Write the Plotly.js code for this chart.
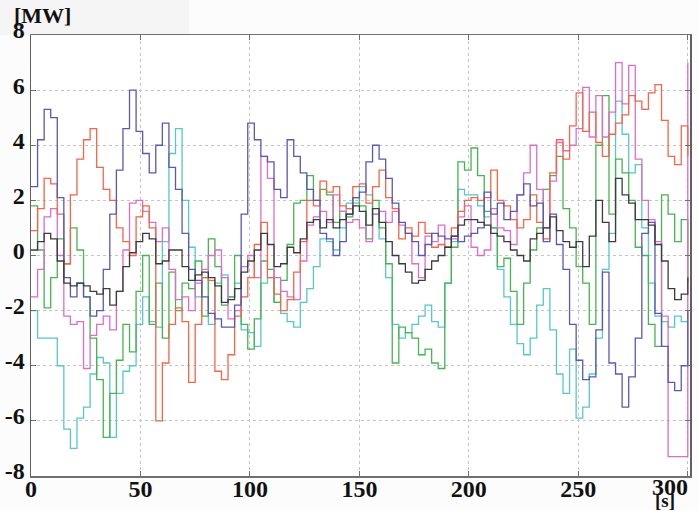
<!DOCTYPE html>
<html>
<head>
<meta charset="utf-8">
<script src="https://cdn.plot.ly/plotly-3.0.1.min.js"></script>
<style>html,body{margin:0;padding:0;background:#fcfcfc;}#chart{width:699px;height:511px;}</style>
</head>
<body>
<div id="chart"></div>
<script>
const timeS = [0,3,6,9,12,15,18,21,24,27,30,33,36,39,42,45,48,51,54,57,60,63,66,69,72,75,78,81,84,87,90,93,96,99,
102,105,108,111,114,117,120,123,126,129,132,135,138,141,144,147,150,153,156,159,162,165,168,171,174,177,180,183,186,189,192,195,198,201,
204,207,210,213,216,219,222,225,228,231,234,237,240,243,246,249,252,255,258,261,264,267,270,273,276,279,282,285,288,291,294,297,300];

const blueMW = [2.5,4.2,5.3,5.0,2.1,-0.8,-1.5,-1.0,-1.5,-2.2,-2.0,-0.5,1.5,3.1,4.6,6.0,4.5,3.7,
3.0,4.0,4.8,3.2,2.4,0.8,-0.5,-0.9,-1.5,-2.1,-2.3,-2.6,-2.6,-1.8,1.5,4.8,
4.2,3.6,3.4,2.4,2.1,4.2,3.6,3.0,2.4,2.0,0.8,0.6,0.0,0.5,1.5,2.1,2.3,
3.4,4.0,3.5,2.8,1.9,1.2,0.8,0.5,0.0,0.4,0.8,0.7,0.6,0.7,0.5,0.7,0.8,
1.0,2.3,1.5,1.9,1.3,1.6,2.2,2.6,1.8,1.9,0.5,1.5,0.4,-0.5,-2.5,-3.8,-4.5,
-4.4,-2.7,-0.6,-3.9,-4.3,-5.5,-4.4,-3.0,0.8,1.2,-2.1,-3.3,-4.6,-4.9,-4.0,-2.0];

const redMW = [0.9,1.7,2.8,2.6,1.5,-0.3,2.2,3.5,4.2,4.6,3.2,2.4,2.0,1.0,0.5,0.0,1.4,1.8,
1.0,-6.0,-3.9,-2.5,-1.9,-2.4,-4.6,-2.5,-0.8,-0.9,-4.2,-4.5,-3.6,-2.2,-1.5,-0.8,
0.4,1.2,-0.8,-1.4,-2.0,-1.6,-0.6,0.5,2.0,1.8,2.7,2.3,2.5,1.8,1.7,2.5,2.6,
1.9,2.5,3.1,2.1,1.7,0.6,1.0,0.7,1.2,0.8,0.3,0.4,0.3,1.0,1.6,2.0,2.1,
2.0,2.1,3.1,2.0,1.8,1.3,1.0,1.3,2.2,1.2,0.6,3.0,4.2,3.5,4.7,5.9,4.5,
5.2,4.1,3.6,4.4,4.8,5.1,5.8,5.6,5.3,5.9,6.2,4.9,3.6,3.3,4.7,3.6];

const greenMW = [1.8,0.2,-1.9,-0.8,0.6,-0.3,1.0,0.2,-1.5,-3.0,-4.5,-6.6,-5.0,-3.8,-2.5,-3.5,-1.3,0.0,
-2.5,-1.0,-3.0,-0.6,-2.0,-1.0,-1.2,-0.2,-2.2,0.6,-0.4,-1.8,-1.5,0.0,-2.5,-3.4,
-2.3,-0.2,-0.5,-1.7,-0.9,0.4,1.9,2.0,2.9,2.0,2.4,2.2,1.2,1.6,1.4,2.1,1.8,
0.6,2.0,1.0,-0.3,-3.9,-2.6,-2.8,-3.0,-3.6,-3.4,-3.9,-4.1,-1.0,0.3,3.4,3.1,3.9,
2.9,1.6,1.0,-0.4,-0.1,-1.3,-2.5,-1.0,0.2,1.0,2.4,2.9,3.6,1.7,1.0,-0.4,-1.0,
-2.5,4.0,5.8,1.5,3.5,3.0,2.0,0.3,0.0,-2.5,-3.3,2.2,1.5,0.5,1.3,-1.0];

const cyanMW = [-2.0,-3.0,-3.0,-3.0,-4.0,-6.3,-7.0,-5.9,-5.5,-4.3,-3.7,-3.9,-6.6,-5.0,-4.2,-4.0,-2.5,-1.5,
-2.4,-2.6,0.5,3.7,4.6,2.0,0.3,-1.5,-0.8,-2.5,-1.0,-0.7,-1.5,-1.0,-2.7,-2.8,
-3.3,-1.0,-0.8,-1.7,-2.1,-2.4,-2.6,-1.7,-1.2,-0.4,0.6,0.5,0.2,1.0,1.9,1.9,2.5,
2.2,1.5,0.6,-0.8,-2.5,-3.0,-2.8,-2.5,-2.2,-1.8,-2.4,-2.6,-1.0,0.5,2.4,2.2,2.2,
1.8,1.4,1.0,-0.5,-1.5,-2.5,-3.2,-3.6,-3.0,-1.8,-1.2,-2.7,-4.3,-5.0,-3.4,-5.9,-5.5,
-4.3,-3.0,-0.5,0.8,5.6,4.4,3.0,3.3,1.0,-1.0,-2.2,-2.4,-2.6,-2.2,-2.4,-2.4];

const pinkMW = [-1.5,-0.5,1.4,1.7,0.0,-2.2,-2.5,-2.4,-4.1,-2.9,-2.5,-2.2,-2.7,-1.3,0.2,1.9,2.0,1.6,
1.2,0.5,1.0,-0.5,-1.6,-1.5,-2.0,-1.0,-0.5,0.0,0.2,-0.8,-2.3,-2.0,-0.4,0.0,
-0.8,3.6,2.8,-0.8,-1.3,-1.5,-1.6,-0.2,1.1,1.4,1.6,1.2,2.2,1.6,1.2,1.3,1.0,
0.5,1.5,1.6,1.2,1.6,1.1,0.8,-0.3,-0.8,0.7,0.5,1.1,0.3,0.6,1.4,1.8,0.3,
0.0,0.2,1.7,1.0,0.9,0.4,2.2,3.0,4.0,2.4,1.0,2.7,4.1,3.8,4.0,4.6,6.1,
4.3,5.8,4.3,5.2,7.0,5.5,6.9,3.5,2.0,1.3,0.5,-2.2,-7.3,-7.3,-7.3,7.0];

const blackMW = [0.2,0.5,0.8,0.6,-0.2,-1.0,-1.1,-1.0,-1.1,-1.3,-1.4,-1.2,-1.8,-1.3,-0.4,0.1,0.5,0.8,
0.6,-0.3,-0.2,0.2,0.2,-0.4,-0.9,-0.7,-0.6,-0.8,-1.1,-1.7,-1.6,-1.2,-0.6,-0.2,
0.2,0.8,0.4,-0.4,-0.3,0.3,0.1,0.6,1.2,1.3,1.0,1.3,1.0,1.3,1.5,1.8,1.6,
1.1,1.7,1.2,0.5,0.0,-0.3,-0.6,-1.0,-0.9,-0.5,-0.2,0.0,0.3,0.7,1.1,1.3,1.3,
1.2,1.1,0.8,0.7,0.5,0.2,0.0,-0.2,0.6,0.8,1.0,1.4,0.9,0.5,0.3,0.5,-0.4,
0.7,2.0,1.2,0.5,2.8,2.2,1.9,1.3,1.3,1.1,0.4,-0.2,-1.2,-1.6,-1.4,-0.8];

const xTickVals = [0, 50, 100, 150, 200, 250, 300];
const xTickText = ['0', '50', '100', '150', '200', '250', ''];
const yTickVals = [-8, -6, -4, -2, 0, 2, 4, 6, 8];
const yTickText = ['-8', '-6', '-4', '-2', '0', '2', '4', '6', '8'];

const series = [
  {y: cyanMW, color: '#55c8c8'},
  {y: greenMW, color: '#46b450'},
  {y: pinkMW, color: '#dc6ec8'},
  {y: redMW, color: '#f2664a'},
  {y: blueMW, color: '#5a58b4'},
  {y: blackMW, color: '#3c3c3c'}
];

const traces = series.map(s => ({
  x: timeS, y: s.y, type: 'scatter', mode: 'lines',
  line: {shape: 'hv', color: s.color, width: 1.3},
  hoverinfo: 'skip', showlegend: false
}));

const tickFont = {family: 'Liberation Serif, Times New Roman, serif', size: 24, color: '#111', weight: 'bold'};

const layout = {
  width: 699, height: 511,
  margin: {l: 31, r: 9, t: 35, b: 35, pad: 0},
  paper_bgcolor: '#fcfcfc', plot_bgcolor: '#ffffff',
  showlegend: false,
  xaxis: {
    range: [0, 301], tickmode: 'array', tickvals: xTickVals, ticktext: xTickText,
    showgrid: true, gridcolor: '#c4c4c4', griddash: 'dot', gridwidth: 1,
    zeroline: false, showline: true, linecolor: '#707070', linewidth: 1.5, mirror: 'ticks',
    ticks: 'inside', ticklen: 5, tickcolor: '#707070',
    tickfont: tickFont, ticklabelstandoff: -9
  },
  yaxis: {
    range: [-8, 8], tickmode: 'array', tickvals: yTickVals, ticktext: yTickText,
    showgrid: true, gridcolor: '#c4c4c4', griddash: 'dot', gridwidth: 1,
    zeroline: false, showline: true, linecolor: '#606060', linewidth: 1.5, mirror: 'ticks',
    ticks: 'inside', ticklen: 5, tickcolor: '#707070',
    tickfont: tickFont, ticklabelshift: -5
  },
  shapes: [
    {type: 'rect', xref: 'paper', yref: 'paper', x0: -0.047, x1: 0.24, y0: 1.0, y1: 1.08,
     fillcolor: '#f5f5f5', line: {width: 0}, layer: 'below'}
  ],
  annotations: [
    {text: '[MW]', xref: 'paper', yref: 'paper', x: 0.017, y: 1.045, xanchor: 'center', yanchor: 'middle',
     showarrow: false, font: {family: tickFont.family, size: 22, color: '#111', weight: 'bold'}},
    {text: '300', xref: 'paper', yref: 'paper', x: 0.9697, y: -0.026, xanchor: 'center', yanchor: 'middle',
     showarrow: false, font: tickFont},
    {text: '[s]', xref: 'paper', yref: 'paper', x: 0.962, y: -0.055, xanchor: 'center', yanchor: 'middle',
     showarrow: false, font: {family: tickFont.family, size: 19, color: '#111', weight: 'bold'}}
  ]
};

Plotly.newPlot('chart', traces, layout, {displayModeBar: false, staticPlot: true});
</script>
</body>
</html>
